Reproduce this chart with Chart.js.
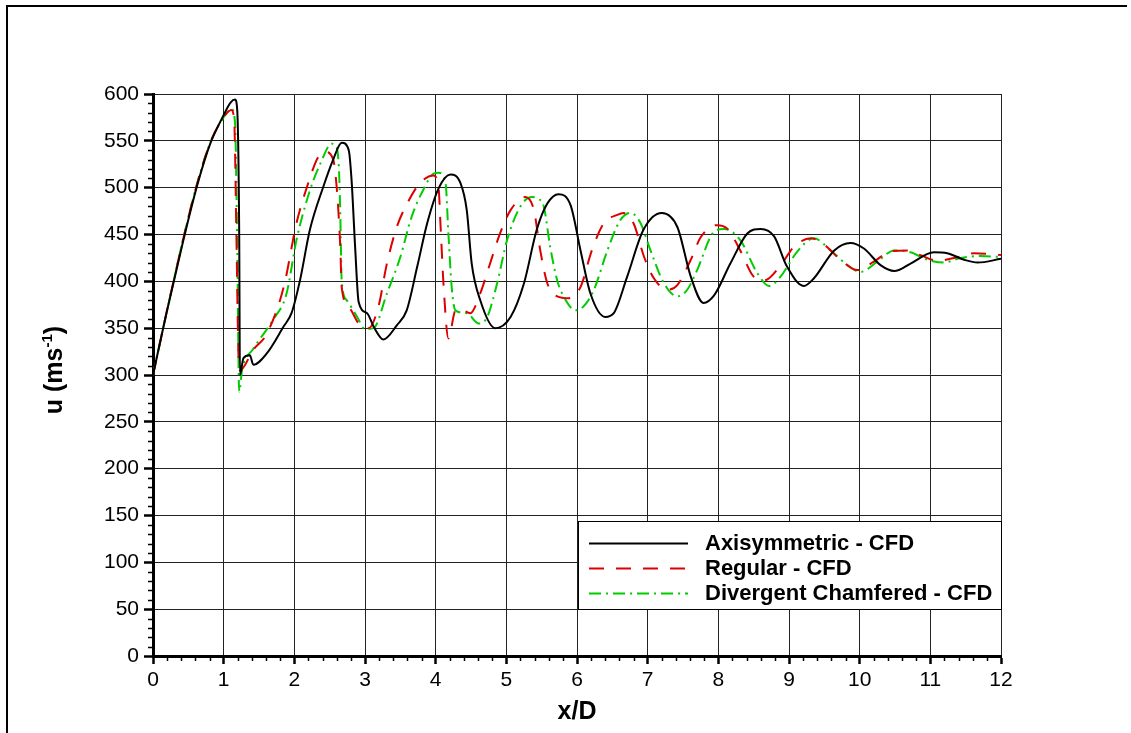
<!DOCTYPE html>
<html>
<head>
<meta charset="utf-8">
<title>u vs x/D</title>
<script src="https://cdn.jsdelivr.net/npm/chart.js@4"></script>
<style>
  html, body { margin: 0; padding: 0; background: #fff; }
  #uChart { display: block; }
</style>
</head>
<body>
<canvas id="uChart" width="1131" height="733"></canvas>
<script>
'use strict';

// axial velocity u (m/s) along the jet, x/D positions
const axiX = [0, 0.19, 0.43, 0.62, 0.81, 0.99, 1.10, 1.16, 1.19, 1.22, 1.23, 1.28, 1.37, 1.42, 1.61, 1.85,
  1.96, 2.08, 2.22, 2.41, 2.55, 2.67, 2.77, 2.81, 2.86, 2.91, 3.03, 3.12, 3.26, 3.45, 3.59, 3.74, 3.88,
  4.04, 4.21, 4.35, 4.44, 4.51, 4.63, 4.84, 5.06, 5.25, 5.43, 5.58, 5.74, 5.91, 6.05, 6.19, 6.40, 6.52,
  6.71, 6.94, 7.20, 7.42, 7.61, 7.79, 7.94, 8.17, 8.41, 8.60, 8.79, 8.97, 9.21, 9.35, 9.64, 9.87, 10.06,
  10.30, 10.49, 10.72, 11.05, 11.24, 11.48, 11.67, 12.0];
const axiU = [300, 366, 444, 501, 547, 576, 591, 594, 585, 450, 300, 318, 321, 311, 323, 352,
  366, 401, 455, 501, 530, 548, 540, 508, 437, 378, 366, 352, 338, 353, 369, 416, 462,
  499, 514, 505, 476, 419, 380, 350, 362, 398, 455, 483, 493, 481, 433, 387, 362, 366,
  405, 455, 473, 458, 405, 377, 385, 419, 451, 456, 448, 416, 395, 403, 433, 441, 435,
  417, 411, 419, 431, 430, 423, 420, 424];

const regX = [0, 0.19, 0.43, 0.62, 0.81, 0.99, 1.11, 1.15, 1.18, 1.21, 1.23, 1.42, 1.61, 1.85, 2.03, 2.18,
  2.34, 2.44, 2.55, 2.60, 2.65, 2.67, 2.77, 2.93, 3.05, 3.19, 3.31, 3.45, 3.59, 3.78, 3.97, 4.04, 4.07,
  4.11, 4.18, 4.28, 4.35, 4.49, 4.63, 4.77, 4.91, 5.06, 5.27, 5.39, 5.48, 5.58, 5.72, 5.88, 6.05, 6.21,
  6.38, 6.57, 6.66, 6.80, 6.95, 7.09, 7.28, 7.42, 7.61, 7.75, 7.98, 8.13, 8.31, 8.50, 8.65, 8.88, 9.07,
  9.31, 9.50, 9.73, 9.97, 10.20, 10.44, 10.68, 10.86, 11.10, 11.34, 11.62, 12.0];
const regU = [300, 366, 446, 503, 548, 574, 583, 570, 450, 320, 305, 327, 344, 394, 462, 501,
  533, 538, 530, 500, 437, 394, 373, 353, 350, 373, 419, 458, 482, 505, 513, 501, 458,
  398, 339, 369, 370, 366, 387, 419, 451, 476, 490, 476, 433, 398, 384, 382, 394, 433,
  462, 471, 473, 462, 426, 403, 391, 396, 423, 447, 460, 456, 433, 405, 401, 417, 437,
  446, 439, 423, 412, 421, 432, 433, 428, 422, 425, 430, 428];

const divX = [0, 0.19, 0.43, 0.62, 0.81, 0.99, 1.11, 1.16, 1.19, 1.22, 1.26, 1.42, 1.70, 1.89, 2.03, 2.22,
  2.37, 2.53, 2.58, 2.63, 2.65, 2.67, 2.74, 2.89, 3.00, 3.12, 3.31, 3.50, 3.66, 3.84, 3.97, 4.04, 4.14,
  4.18, 4.23, 4.28, 4.44, 4.61, 4.73, 4.87, 5.01, 5.20, 5.36, 5.45, 5.53, 5.62, 5.72, 5.81, 5.98, 6.09,
  6.24, 6.43, 6.61, 6.76, 6.90, 7.04, 7.23, 7.42, 7.56, 7.70, 7.94, 8.08, 8.31, 8.55, 8.72, 8.88, 9.12,
  9.35, 9.59, 9.83, 10.01, 10.25, 10.49, 10.72, 10.96, 11.19, 11.43, 11.71, 12.0];
const divU = [300, 366, 446, 503, 548, 574, 584, 570, 450, 282, 305, 328, 359, 387, 444, 497,
  526, 547, 545, 522, 473, 401, 380, 362, 349, 350, 387, 426, 469, 500, 515, 516, 505,
  451, 391, 369, 366, 355, 362, 398, 444, 480, 490, 488, 480, 437, 401, 384, 369, 373,
  391, 433, 465, 473, 462, 433, 398, 384, 391, 412, 453, 456, 444, 409, 395, 405, 432,
  446, 433, 417, 410, 421, 433, 431, 423, 420, 425, 427, 426];

const seriesNames = ['Axisymmetric - CFD', 'Regular - CFD', 'Divergent Chamfered - CFD'];
const xTicks = [0, 1, 2, 3, 4, 5, 6, 7, 8, 9, 10, 11, 12];
const yTicks = [0, 50, 100, 150, 200, 250, 300, 350, 400, 450, 500, 550, 600];

const FONT = "'Liberation Sans', Arial, Helvetica, sans-serif";

function toPoints(xs, ys) {
  const pts = [];
  for (let i = 0; i < xs.length; i++) {
    pts.push({ x: xs[i], y: ys[i] });
  }
  return pts;
}

// page frame, drawn behind everything
const framePlugin = {
  id: 'frame',
  beforeDraw(chart) {
    const ctx = chart.ctx;
    ctx.save();
    ctx.fillStyle = '#fff';
    ctx.fillRect(0, 0, chart.width, chart.height);
    ctx.strokeStyle = '#000';
    ctx.lineWidth = 2;
    ctx.beginPath();
    ctx.moveTo(7, chart.height);
    ctx.lineTo(7, 6);
    ctx.lineTo(1127, 6);
    ctx.stroke();
    ctx.restore();
  },
};

// small ticks between the labelled ones
const minorTickPlugin = {
  id: 'minorTicks',
  afterDraw(chart) {
    const ctx = chart.ctx;
    const xs = chart.scales.x;
    const ys = chart.scales.y;
    const area = chart.chartArea;
    ctx.save();
    ctx.strokeStyle = '#000';
    ctx.lineWidth = 1.5;
    ctx.beginPath();
    for (let i = 1; i < 60; i++) {
      if (i % 5 === 0) continue;
      const px = Math.round(xs.getPixelForValue(i * 0.2)) + 0.5;
      ctx.moveTo(px, area.bottom);
      ctx.lineTo(px, area.bottom + 5);
    }
    for (let v = 10; v < 600; v += 10) {
      if (v % 50 === 0) continue;
      const py = Math.round(ys.getPixelForValue(v)) + 0.5;
      ctx.moveTo(area.left - 5, py);
      ctx.lineTo(area.left, py);
    }
    ctx.stroke();
    ctx.restore();
  },
};

// axis titles, with the superscript unit on the y axis
const axisTitlePlugin = {
  id: 'axisTitles',
  afterDraw(chart) {
    const ctx = chart.ctx;
    const area = chart.chartArea;
    ctx.save();
    ctx.fillStyle = '#000';
    ctx.font = 'bold 25px ' + FONT;
    ctx.textAlign = 'center';
    ctx.textBaseline = 'middle';
    ctx.fillText('x/D', (area.left + area.right) / 2, 712);

    ctx.translate(53, (area.top + area.bottom) / 2 - 5);
    ctx.rotate(-Math.PI / 2);
    ctx.textAlign = 'left';
    ctx.textBaseline = 'alphabetic';
    const big = 'bold 25px ' + FONT;
    const small = 'bold 15px ' + FONT;
    ctx.font = big;
    const w1 = ctx.measureText('u (ms').width;
    const w3 = ctx.measureText(')').width;
    ctx.font = small;
    const w2 = ctx.measureText('-1').width;
    let x = -(w1 + w2 + w3) / 2;
    const base = 9;
    ctx.font = big;
    ctx.fillText('u (ms', x, base);
    x += w1;
    ctx.font = small;
    ctx.fillText('-1', x, base - 10);
    x += w2;
    ctx.font = big;
    ctx.fillText(')', x, base);
    ctx.restore();
  },
};

// boxed legend in the lower right of the plot
const legendBoxPlugin = {
  id: 'legendBox',
  afterDatasetsDraw(chart) {
    const ctx = chart.ctx;
    const box = { left: 578, top: 521, right: 1001, bottom: 609 };
    ctx.save();
    ctx.fillStyle = '#fff';
    ctx.fillRect(box.left, box.top, box.right - box.left, box.bottom - box.top);
    ctx.strokeStyle = '#000';
    ctx.lineWidth = 1;
    ctx.strokeRect(box.left + 0.5, box.top + 0.5, box.right - box.left, box.bottom - box.top);
    const rows = [543, 568, 593];
    chart.data.datasets.forEach((ds, i) => {
      ctx.strokeStyle = ds.borderColor;
      ctx.lineWidth = ds.borderWidth;
      ctx.setLineDash(ds.borderDash || []);
      ctx.beginPath();
      ctx.moveTo(589, rows[i] + 0.5);
      ctx.lineTo(688, rows[i] + 0.5);
      ctx.stroke();
      ctx.setLineDash([]);
      ctx.fillStyle = '#000';
      ctx.font = 'bold 22px ' + FONT;
      ctx.textAlign = 'left';
      ctx.textBaseline = 'middle';
      ctx.fillText(ds.label, 705, rows[i] + 1);
    });
    ctx.restore();
  },
};

const uCanvas = document.getElementById('uChart');

const uChart = new Chart(uCanvas, {
  type: 'scatter',
  data: {
    datasets: [
      {
        label: seriesNames[0],
        data: toPoints(axiX, axiU),
        showLine: true,
        borderColor: '#000000',
        borderWidth: 2,
        pointRadius: 0,
        cubicInterpolationMode: 'monotone',
      },
      {
        label: seriesNames[1],
        data: toPoints(regX, regU),
        showLine: true,
        borderColor: '#dd0000',
        borderWidth: 2,
        borderDash: [15, 12],
        pointRadius: 0,
        cubicInterpolationMode: 'monotone',
      },
      {
        label: seriesNames[2],
        data: toPoints(divX, divU),
        showLine: true,
        borderColor: '#00cc00',
        borderWidth: 2,
        borderDash: [12, 5, 2, 5],
        pointRadius: 0,
        cubicInterpolationMode: 'monotone',
      },
    ],
  },
  options: {
    responsive: false,
    animation: false,
    devicePixelRatio: 1,
    layout: {
      padding: { left: 0, top: 94, right: 130, bottom: 0 },
    },
    plugins: {
      legend: { display: false },
      tooltip: { enabled: false },
    },
    scales: {
      x: {
        type: 'linear',
        min: 0,
        max: 12,
        afterFit(scale) { scale.height = 77; },
        afterBuildTicks(scale) { scale.ticks = xTicks.map(v => ({ value: v })); },
        ticks: {
          color: '#000',
          font: { family: FONT, size: 21 },
          padding: 4,
          maxRotation: 0,
          callback: v => String(v),
        },
        grid: {
          color: '#222',
          lineWidth: 1,
          drawTicks: true,
          tickLength: 8,
          tickWidth: 2.5,
          tickColor: '#000',
        },
        border: { display: true, color: '#000', width: 3 },
      },
      y: {
        type: 'linear',
        min: 0,
        max: 600,
        afterFit(scale) { scale.width = 153; },
        afterBuildTicks(scale) { scale.ticks = yTicks.map(v => ({ value: v })); },
        ticks: {
          color: '#000',
          font: { family: FONT, size: 21 },
          padding: 5,
          callback: v => String(v),
        },
        grid: {
          color: '#222',
          lineWidth: 1,
          drawTicks: true,
          tickLength: 9,
          tickWidth: 2.5,
          tickColor: '#000',
        },
        border: { display: true, color: '#000', width: 3 },
      },
    },
  },
  plugins: [framePlugin, minorTickPlugin, axisTitlePlugin, legendBoxPlugin],
});
</script>
</body>
</html>
